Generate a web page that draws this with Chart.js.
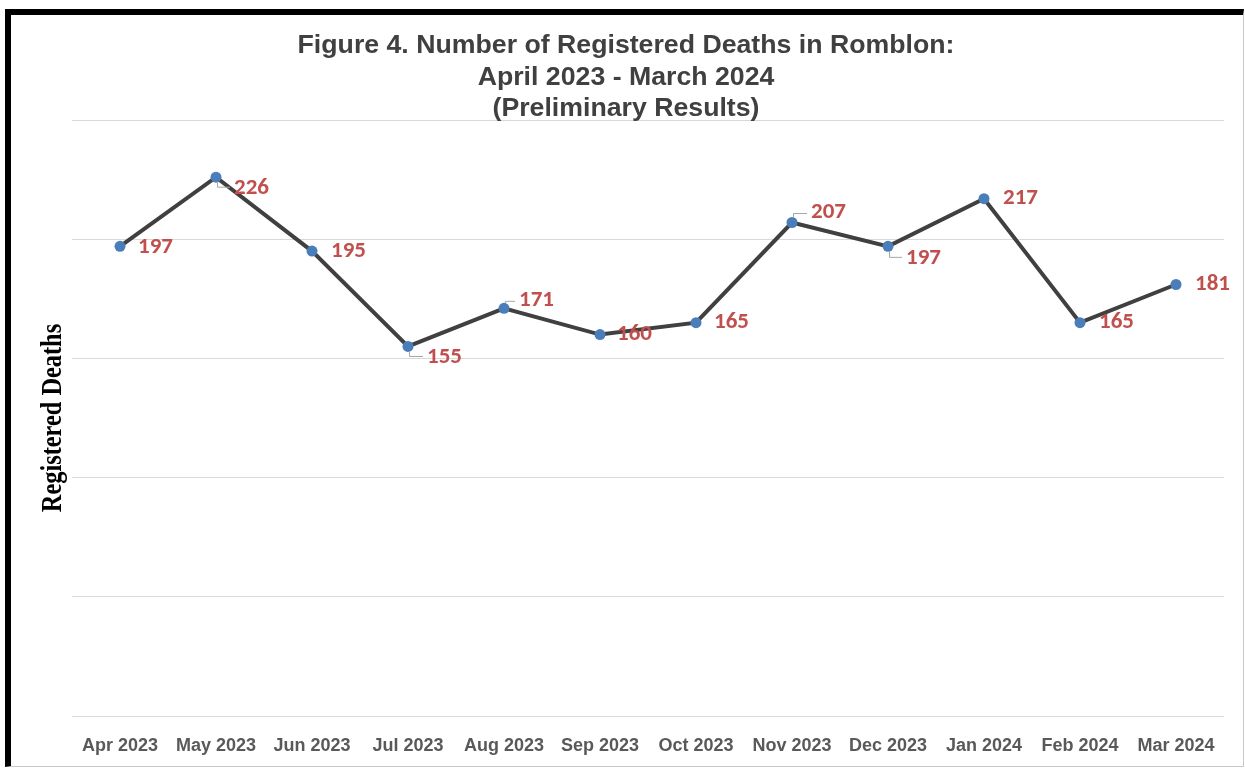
<!DOCTYPE html>
<html>
<head>
<meta charset="utf-8">
<script src="https://cdn.jsdelivr.net/npm/chart.js@4.4.1/dist/chart.umd.min.js"></script>
<style>
    html, body { margin: 0; padding: 0; background: #fff; }
    #wrap { position: relative; width: 1245px; height: 769px; overflow: hidden; }
    #chart { position: absolute; left: 0; top: 0; }
    /* frame like the pasted spreadsheet picture */
    #frame {
        position: absolute; left: 5px; top: 9px; width: 1232px; height: 751px;
        border-top: 6px solid #000; border-left: 6px solid #000;
        border-right: 1px solid #c8c8c8; border-bottom: 1px solid #c8c8c8;
        pointer-events: none;
    }
</style>
</head>
<body>
<div id="wrap">
    <canvas id="chart" width="1245" height="769"></canvas>
    <div id="frame"></div>
</div>
<script>
// --- data ---
const months = ["Apr 2023", "May 2023", "Jun 2023", "Jul 2023", "Aug 2023", "Sep 2023",
                "Oct 2023", "Nov 2023", "Dec 2023", "Jan 2024", "Feb 2024", "Mar 2024"];
const deaths = [197, 226, 195, 155, 171, 160, 165, 207, 197, 217, 165, 181];
const yTicks = [0, 50, 100, 150, 200, 250];

const titleLines = ["Figure 4. Number of Registered Deaths in Romblon:",
                    "April 2023 - March 2024",
                    "(Preliminary Results)"];
const yTitle = "Registered Deaths";

// label placement relative to each point (dx to text start, dy to text middle)
const labelNudge = [[18, 1], [18, 11], [19, 0], [19, 11], [15, -8], [17, 0],
                    [18, 0], [19, -10], [18, 12], [19, 0], [19, 0], [19, 0]];
const withLeader = [false, true, false, true, true, false, false, true, true, false, false, false];

// headline + rotated axis title, drawn on the canvas
const textPlugin = {
    id: "texts",
    afterDraw(chart) {
        const ctx = chart.ctx;
        ctx.save();
        ctx.fillStyle = "#404040";
        ctx.font = "bold 26.7px 'Liberation Sans', Arial, sans-serif";
        ctx.textAlign = "center";
        ctx.textBaseline = "middle";
        titleLines.forEach((t, i) => ctx.fillText(t, 626, 46 + i * 31.5));
        ctx.restore();

        ctx.save();
        ctx.translate(54, 418);
        ctx.rotate(-Math.PI / 2);
        ctx.scale(0.84, 1); // condensed look
        ctx.fillStyle = "#000";
        ctx.font = "bold 29px 'Liberation Serif', 'Times New Roman', serif";
        ctx.textAlign = "center";
        ctx.textBaseline = "middle";
        ctx.fillText(yTitle, 0, 0);
        ctx.restore();
    }
};

// value labels with small leader lines
const labelPlugin = {
    id: "valueLabels",
    afterDatasetsDraw(chart) {
        const ctx = chart.ctx;
        const pts = chart.getDatasetMeta(0).data;
        ctx.save();
        pts.forEach((p, i) => {
            const [dx, dy] = labelNudge[i];
            if (withLeader[i]) {
                const sign = dy > 0 ? 1 : -1;
                ctx.strokeStyle = "#a6a6a6";
                ctx.lineWidth = 1;
                ctx.beginPath();
                ctx.moveTo(p.x + 1.5, p.y + sign * 5);
                ctx.lineTo(p.x + 1.5, p.y + dy - sign * 1);
                ctx.lineTo(p.x + dx - 4, p.y + dy - sign * 1);
                ctx.stroke();
            }
            ctx.fillStyle = "#C0504D";
            ctx.font = "bold 23px Carlito, Lato, sans-serif";
            ctx.textAlign = "left";
            ctx.textBaseline = "middle";
            ctx.fillText(String(deaths[i]), p.x + dx, p.y + dy);
        });
        ctx.restore();
    }
};

new Chart(document.getElementById("chart"), {
    type: "line",
    data: {
        labels: months,
        datasets: [{
            data: deaths,
            borderColor: "#404040",
            borderWidth: 4,
            tension: 0,
            pointRadius: 5.5,
            pointHoverRadius: 5.5,
            pointBackgroundColor: "#4A7EBB",
            pointBorderWidth: 0
        }]
    },
    options: {
        responsive: false,
        animation: false,
        events: [],
        layout: { padding: { left: 72, right: 21, top: 120, bottom: 12 } },
        plugins: {
            legend: { display: false },
            tooltip: { enabled: false },
            title: { display: false }
        },
        scales: {
            x: {
                offset: true,
                grid: { display: false, drawTicks: false },
                border: { display: false },
                afterFit(scale) { scale.height = 41; },
                ticks: {
                    color: "#595959",
                    padding: 19,
                    maxRotation: 0,
                    font: { family: "'Liberation Sans', Arial, sans-serif", size: 18, weight: "bold" }
                }
            },
            y: {
                min: yTicks[0],
                max: yTicks[yTicks.length - 1],
                afterBuildTicks(scale) { scale.ticks = yTicks.map(v => ({ value: v })); },
                grid: { color: "#d9d9d9", lineWidth: 1, drawTicks: false },
                border: { display: false },
                ticks: { display: false }
            }
        }
    },
    plugins: [textPlugin, labelPlugin]
});
</script>
</body>
</html>
